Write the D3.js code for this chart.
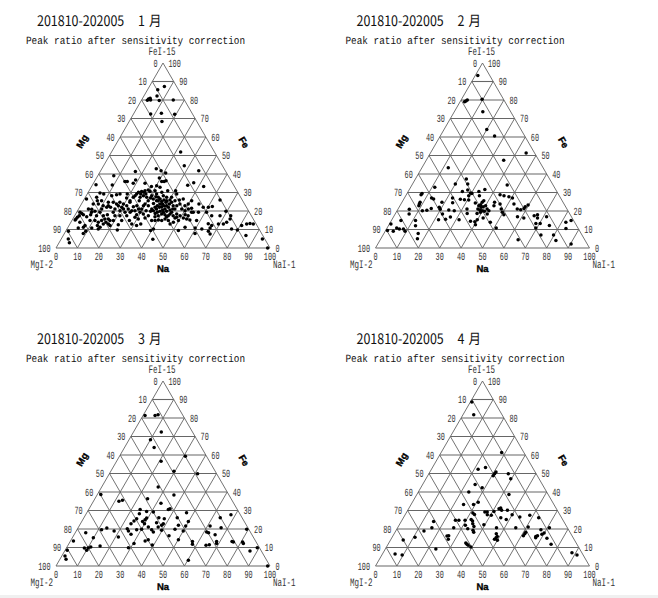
<!DOCTYPE html>
<html><head><meta charset="utf-8">
<script src="https://cdn.jsdelivr.net/npm/d3@7/dist/d3.min.js"></script>
<style>html,body{margin:0;padding:0;background:#fff}svg{display:block}text{text-rendering:geometricPrecision}</style>
</head><body><div id="chart"></div>
<script>
const months = ["1","2","3","4"];
const tickValues = [0,10,20,30,40,50,60,70,80,90,100];
const titleText = "201810-202005";
const monthUnit = "月";
const subtitleText = "Peak ratio after sensitivity correction";
const axisCorners = ["FeI-15","MgI-2","NaI-1"];
const axisNames = ["Mg","Fe","Na"];
// [Na, Fe] in percent (Mg = 100 - Na - Fe)
const jan = [[7,87.3],[4.8,85.5],[6.1,82.2],[8.4,79.7],[2.8,79.8],[3,80.5],[3.5,81],[4.2,80],[14.8,80],[8,72.5],[12.8,72.9],[19.3,72.3],[15.3,68.4],
[32.3,51.9],[37.7,44.5],[45.8,41.8],[16.4,41.4],[25.4,42.9],[28.2,41.8],[31,40.5],[7.5,39],[9.3,34],[1.6,34.2],[14.2,36],[15.3,36],[18.6,35],[18.8,36.8],[24.1,35],[29.4,37.8],[31.4,36],[32.5,36],[33.2,36.4],[44.6,33.9],[46.7,35.3],[52.4,33.2],[30.2,33.7],[28,33.2],[32.2,32.8],
[5.7,29.7],[7.7,29.2],[1,26.5],[5.3,27.4],[6.5,25.6],[7.9,23.8],[12.1,24.7],[13,22.9],[11.9,28.3],[13.9,28.8],[15.3,29.2],[18.7,29.2],[22.8,28.3],[23.5,30.1],[24.7,30.6],[26.1,31],[27.4,31.4],[25.6,27.4],[26.1,25.6],[26.7,28.3],[28.7,27.4],[30.3,25.6],[30.6,28.3],[30.8,31],[32.4,29.2],[34.1,27.4],[34.4,30.1],
[1.3,9],[3.3,4.9],[4.8,2.9],[1.4,15.1],[1.5,15.7],[1.7,16.6],[2.1,17.5],[2.7,18.7],[5.9,16.9],[8.5,14.8],[7.5,12.1],[5,10.8],[7.2,11.2],[9.4,9],[8.8,7.9],[4.6,21.1],[1.6,19.3],[6.2,21],
[10.2,17.5],[10.8,14.8],[13.3,12.1],[14.6,10.3],[15,11.2],[15.6,13],[15,15.7],[16.4,13.9],[18,13],[19.2,12.1],[17.8,14.8],[15,18],[14.5,22],[17,21.1],[17.7,22.9],[19.8,20.2],[19.7,22],[19.6,23.8],[21.6,22.9],[23.2,21.1],[22.6,19.3],[22.8,12.6],[23.8,9.7],[24.3,17.5],[25,19.3],[26.9,14.8],[28.9,13],[31.6,12.1],[33.1,13],[28.6,16.6],[28.7,18],[29.6,19.3],[25,22.3],[26.3,22.9],[29.5,21.1],
[34.4,17.5],[37.3,14.8],[38.9,14.8],[40.3,15.1],[42,14.8],[43.1,15.7],[40.4,10.3],[39.5,9.4],[42.9,4.7],[45.1,14.8],[46.8,13],[52.5,9.4],[47.9,13.9],[49.8,14.8],
[32.2,26.5],[34.2,25.6],[35.4,26.5],[36.8,25.2],[37.5,25.9],[39,24.7],[37.9,23.8],[36.7,23.8],[35.9,22.9],[35.3,22],[34.2,21.1],[37.3,22],[38.2,22.3],[39,22.9],[40.2,22.9],[41.1,23.8],[41.7,24.7],[41.5,22],[40.4,21.1],[39.6,20.5],[38.7,19.8],[37.7,19.3],[41.8,19.8],[43,20.5],[40.2,18.4],[41.9,18],[43.7,17.5],[39,17.5],[37,18.7],[34.3,19.8],[44.4,19.3],[45,21.1],[45,22.9],[46,23.8],[46.2,26.5],[44.7,25.9],[42.8,25.6],[40.3,27.4],[41.8,29.2],[38,27.4],[36,28.3],[36.7,31],[40.4,31],[31.7,22.9],[29.7,23.8],[29.4,22.9],[32,20.2],
[50.2,20.2],[51.3,21.1],[52.6,21.5],[54.5,19.3],[53,17.5],[51.3,18],[53.2,15.7],[51.4,16.2],[49.2,17.5],[55,15.1],[56.9,19.3],[54.9,23.8],[50.6,25.6],[49.9,23.8],[60.7,19.3],[64,17.5],[60.2,22],[61.8,22.5],[63.7,25.9],[67.9,17.5],[69.5,19.8],[72.9,17.5],[73.5,15.7],[69.4,13],[64.6,13.1],[66.7,12.1],[66.7,9],[68.2,7.6],[63,10.3],[61,7.9],[59.6,10.8],[54.7,11.2],[76.9,10.3],[79.9,9.7],[80.7,12.1],[82.6,13],[84,13.3],[85.7,13],[85.4,6.7],[94,4.9],[98.9,0],[57.8,22],[47.2,18.4],[47.5,16.2],
[16.4,23.8],[22.4,27.4],[22.2,24.7],[17.1,19.3],[10.8,21.1],[12.7,22],
[23.1,29.2],[25,29.2],[26,30.1],[28.6,30.6],[27.4,29.2],[30.7,27],[33.5,24.1],[32.9,27.7],
[7,19.3],[10.9,19.3],[13.4,17.5],[13.9,14.8],[16.6,15.7],[19.4,14.8],[18.8,17.5],[21.1,17.5],[23.3,14.8],[21,21.1],[25.3,20.2],[26.8,20.2],[28,21.1],[30.6,15.7],[31.6,18.4],[33.5,16.2],[21.8,25.6],[19.5,27],[17.5,24.7],[14.4,24.7],[10.6,22.9],[8.5,25.6],[5.5,23.8],[3.8,18],[7.2,18],[8.3,19.8],[12.8,13.9],[11.3,10.8],[4.2,13.9],
[35.4,20.2],[36.4,21.1],[35,25.6],[38.9,25.6],[40.3,25.9],[43.3,22.9],[44,21.1],[40.5,19.3],[44.1,18.4],[46,17.5],[37.8,16.9],[43.2,16.9],[48.1,16.6],[48.2,21.1],[48.8,22.9],[53.7,19.3],[58.3,14.8],[66.6,10.8],[72.8,13.9],[71.7,13]];
const feb = [[1.2,93.2],[2.1,79.1],[2.5,79.5],[2.9,80],[9.6,80.4],[13.3,73.7],[20,64],[25.4,60.5],[44.7,51.4],[36.2,47.4],[12.3,43.4],[11.3,32.8],[20,34.6],[23.8,37.3],[25.8,34.6],[44.5,34.1],
[27.4,31.4],[25.3,30.6],[29.4,28.3],[30.3,29.5],[29.5,29.7],[33,30.6],[34.4,28.3],[35.3,31.6],[6.9,28.8],[7,29.5],[12.7,27],[13.9,26.5],[8.5,24.7],[8.6,23.8],[8.8,22.9],[5.3,21],[6.5,18.4],[11.8,20.2],[13.8,20.4],[15.4,21.3],
[18.8,22],[19.8,20.9],[18.7,24.7],[22.1,18.4],[21.8,15.3],[25,15.5],[26.6,16.8],[24,20.5],[22.5,27],[23.8,24.5],[26.7,20.2],[31.4,15.3],[26.5,26.3],[28.5,26.1],[30.6,25.9],[32.2,21.1],[33.5,18.7],
[37.2,14.4],[39.3,14.2],[39.9,15.3],[40.4,12.6],[42.2,16.2],[46.7,13.9],[51,10.8],
[34.5,24.3],[36.8,22.9],[37.5,24.7],[37.8,25.6],[37.4,23.4],[37.3,21.1],[38.5,20.5],[38.4,22],[39.1,22.3],[40,22.9],[41.6,21.1],[42.9,20.2],[43,18.4],[39.7,20.2],[39.4,19.3],[38.1,18.7],[41,19.8],[43.3,24.7],[43.9,22.9],[46.3,23.8],[48.2,21.1],[49.6,19.3],[51,18],
[43.8,28.8],[45.9,28.3],[48.5,27.7],[50.5,27],[52.8,23.8],[55.7,21.1],[57.5,20.7],[58.7,21.4],[59.7,23.2],[58.8,22.3],[57.9,16.9],[61.2,16.2],
[65.4,17.5],[66.7,18],[67.6,16.2],[70.3,13.3],[68.3,13.3],[69.5,10.8],[71.5,16.9],[75.2,12.1],[73.8,7],[79.7,7],[82.3,4],[64.4,4.5],[90.3,2.2],[83.7,10.6],[82,13.9],[84,14.8],
[0.9,9.4],[0.7,13],[3.8,9],[4.5,10.8],[6,10.3],[7.9,10.3],[9.3,9],[4.5,14.8],[11.3,14.8],[12.7,12],[16,7.9],[17.1,5]];
const mar = [[0.9,81.4],[5.6,81.4],[6.8,81.8],[13,72.4],[10,68.3],[13.8,64.1],[30.8,59.3],[20.8,56.6],[29.5,51.2],[41.2,49.9],[26.4,42.7],[35.9,38.4],[1.6,38.7],[11.9,35],[13.3,35.5],[32.1,33.9],[24.6,36.4],[37.2,30.6],[37.8,31],[46.6,28.8],[67.9,27.7],[63.7,26.1],
[24,30.6],[27.6,29.5],[30.9,29.2],[24.8,28.3],[24.9,25.6],[24.3,24.3],[23.6,22.9],[28.4,24.1],[29.1,25],[29.4,25.9],[29.9,22.9],[35,26.1],[37.8,25.6],[35.3,23.4],[37.2,21.1],[38.7,22.9],[38.4,22],[43.6,26.1],[46.2,22],[49.8,24.1],[49.8,21.6],[50,18.9],[45.7,19.8],[44.6,16.4],[50.1,14.2],[60.3,3.1],[57.1,13.3],[57.9,11.7],
[61.2,21.6],[61.2,18.4],[62.3,18],[65.9,16.9],[66.8,20.7],[68.4,13.3],[69,12.1],[64.5,11.2],[65.9,11.5],[75.6,13.3],[76.4,13],[80.7,13],[81.5,12.1],[79.2,19.8],[89.1,9.9],[86.6,8.1],[98.9,0],
[11.5,19.6],[13.5,20.5],[17.7,18.9],[23.2,20.2],[24.4,18.9],[26.5,17.1],[27.9,19.6],[30.1,19.8],[32.6,21.1],[34.9,19.6],[36.3,18.4],[36,14.2],[34.9,13.5],[30.4,12.1],[28.9,9.9],[21.3,15.7],[15.2,10.8],[9.8,15.3],[4.9,18],[1.4,13.5],[8.4,9.7],[10.2,9.7],[10.1,8.5],[11.1,10.3],[1,8.5],[1.5,5.4],[2.9,3.6],[39.3,11.4],[39.7,19.3]];
const apr = [[0.7,88.6],[5,81.8],[28.3,61.3],[21.8,52.3],[24.8,53.2],[30.9,50.8],[30.7,49.9],[30.6,48.8],[37.1,49.9],[39.6,47.2],[24.5,44.1],[28.7,42.3],[23.6,40],[43,38.7],[24.5,33.3],[29.2,33.2],[30.8,34.4],[31.2,28.6],[32.3,27.9],
[36.5,29.2],[37.6,29.2],[38.4,27.7],[40.4,27.4],[40.6,29.5],[42.2,31],[42.8,31.4],[43.9,30.1],[46.6,30.1],[50,27.7],[45.5,26.1],[48.5,25.2],[54.2,26.5],[58.4,27.4],[63.2,26.1],
[25,24.7],[26.6,24.7],[29.5,24.7],[32.1,25.2],[33.2,24.3],[34,22.9],[35.3,21.4],[31,22],[33,20.2],[26.2,20.7],[39.5,22.3],[46.2,20.7],[55.2,20.7],[35.9,19.3],[36.8,18.2],
[47.7,17.5],[48.9,16],[48.7,15.3],[48.4,14.4],[50,13.9],[25.3,16.2],[26,16.4],[26.8,14.4],[36,12.4],[36.9,11.7],[37.7,11.2],[39.4,10.3],
[15.1,24.1],[16,20.7],[13.2,18.9],[10.7,15.5],[5.9,14.1],[23.6,9.2],[5.9,6.5],[9.5,5.9],[88.2,7.2],[91.2,5.9],
[70.9,20.7],[67.5,19.6],[69.9,17.8],[72.6,15],[76.2,11.7],[66.9,16],[67.2,15.3],[67.5,16.4],[69.2,17.1],[60.8,21.1],[61.1,18.2],[61,17.5],[60.9,16.4]];
const monthData = [jan,feb,mar,apr];

const svg = d3.select("#chart").append("svg").attr("width",658).attr("height",598);
svg.append("rect").attr("width",658).attr("height",598).attr("fill","#fff");
svg.append("rect").attr("y",595).attr("width",658).attr("height",3).attr("fill","#f0f0f0");

const W = 214, H = 185;
const offsets = [[56,63],[375.5,63],[56,381],[375.5,381]];
const xs = d3.scaleLinear().domain([0,100]).range([0,W]);
const ys = d3.scaleLinear().domain([0,100]).range([H,0]);
const px = (na,fe) => xs(na+fe/2), py = fe => ys(fe);
const labelFont = "'Liberation Mono',monospace";
const lineCol = "#5a5a5a", tickCol = "#333";

months.forEach((m,i)=>{
  const [ox,oy] = offsets[i];
  const g = svg.append("g").attr("transform",`translate(${ox},${oy})`);
  const t = g.append("text").attr("transform","translate(-19,-37.5) scale(0.865,1)")
    .attr("font-family","'Noto Sans CJK JP'").attr("font-size",14.4).attr("fill","#111");
  t.append("tspan").attr("x",0).text(titleText+" ");
  t.append("tspan").attr("x",101/0.865).text(m+" ");
  t.append("tspan").attr("x",112/0.865).text(monthUnit);
  g.append("text").attr("x",-30).attr("y",-18.7).attr("font-family","'Liberation Mono',monospace").attr("font-size",11).attr("fill","#111")
   .attr("textLength",219).attr("lengthAdjust","spacingAndGlyphs").text(subtitleText);

  const gridVals = tickValues.slice(1,-1);
  const seg = [];
  gridVals.forEach(v=>{
    seg.push([[v,100-v],[v,0]]);       // constant Na
    seg.push([[0,v],[v,0]]);           // constant Mg
  });
  seg.push([[0,0],[0,100]],[[100,0],[0,100]]);
  g.append("g").selectAll("line").data(seg).join("line")
   .attr("x1",d=>px(d[0][0],d[0][1])).attr("y1",d=>py(d[0][1]))
   .attr("x2",d=>px(d[1][0],d[1][1])).attr("y2",d=>py(d[1][1]))
   .attr("stroke",lineCol).attr("stroke-width",0.85);
  g.append("g").selectAll("line").data(tickValues.slice(0,-1)).join("line")
   .attr("x1",v=>px(0,v)).attr("y1",v=>py(v)).attr("x2",v=>px(100-v,v)).attr("y2",v=>py(v))
   .attr("stroke","#666").attr("stroke-width",1.1);

  const tw = v => String(v).length*4.1;
  const ticks = (sel,cls) => sel.selectAll("."+cls).data(tickValues).join("text")
    .attr("textLength",tw).attr("lengthAdjust","spacingAndGlyphs").text(v=>v);
  const tg = g.append("g").attr("font-family",labelFont).attr("font-size",11).attr("fill",tickCol);
  // Mg scale on the left edge
  ticks(tg,"mg").attr("x",v=>px(0,100-v)-5.5-tw(v)).attr("y",v=>py(100-v)+3.5);
  // Fe scale on the right edge
  ticks(tg,"fe").attr("x",v=>px(100-v,v)+5.5).attr("y",v=>py(v)+3.5);
  // Na scale on the base
  ticks(tg,"na").attr("x",v=>px(v,0)-tw(v)/2).attr("y",H+11.5);

  const cw = s => s.length*4.5;
  const cg = g.append("g").attr("font-family",labelFont).attr("font-size",11.5).attr("fill",tickCol);
  [[W/2-1-cw(axisCorners[0])/2,-8],[-3-cw(axisCorners[1]),H+19.5],[W+3,H+19.5]].forEach((p,k)=>{
    cg.append("text").attr("x",p[0]).attr("y",p[1]).attr("textLength",cw(axisCorners[k])).attr("lengthAdjust","spacingAndGlyphs").text(axisCorners[k]);
  });

  const ng = g.append("g").attr("font-family","'Liberation Sans',sans-serif").attr("font-size",9.5).attr("font-weight","bold").attr("fill","#000").attr("stroke","#000").attr("stroke-width",0.35).attr("text-anchor","middle");
  ng.append("text").attr("transform",`translate(29,80) rotate(-60)`).text(axisNames[0]);
  ng.append("text").attr("transform",`translate(185,81) rotate(60)`).text(axisNames[1]);
  ng.append("text").attr("x",W/2).attr("y",H+24).text(axisNames[2]);

  g.append("g").selectAll("circle").data(monthData[i]).join("circle")
   .attr("cx",d=>px(d[0],d[1])).attr("cy",d=>py(d[1])).attr("r",1.75).attr("fill","#000");
});
</script></body></html>
